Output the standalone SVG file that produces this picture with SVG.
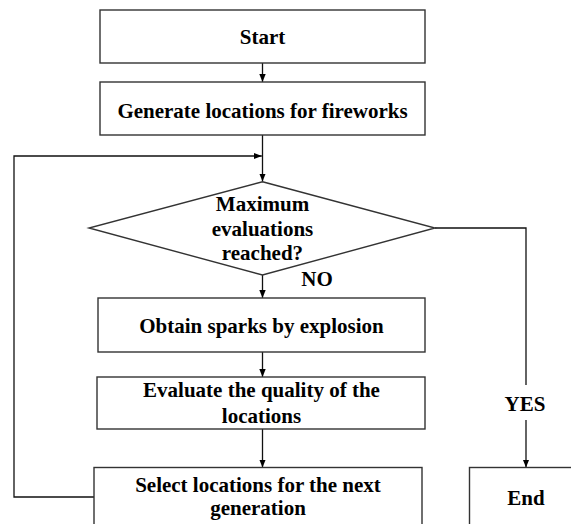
<svg xmlns="http://www.w3.org/2000/svg" width="571" height="524" viewBox="0 0 571 524">
<defs>
<marker id="ah" viewBox="0 0 8 8" refX="8" refY="4" markerWidth="8" markerHeight="8" markerUnits="userSpaceOnUse" orient="auto">
<path d="M0,0.8 L8,4 L0,7.2 Z" fill="#000"/>
</marker>
<style>
.box{fill:#fff;stroke:#333;stroke-width:1.4}
.ln{fill:none;stroke:#111;stroke-width:1.3}
.t{font-family:"Liberation Serif","Times New Roman",serif;font-weight:bold;font-size:21px;fill:#000;text-anchor:middle}
</style>
</defs>
<rect width="571" height="524" fill="#fff"/>
<g id="connectors">
<line class="ln" x1="262.5" y1="63" x2="262.5" y2="82" marker-end="url(#ah)"/>
<line class="ln" x1="262.5" y1="135" x2="262.5" y2="181.5" marker-end="url(#ah)"/>
<polyline class="ln" points="94,497 14,497 14,156 261.8,156" marker-end="url(#ah)"/>
<line class="ln" x1="262.5" y1="275" x2="262.5" y2="298" marker-end="url(#ah)"/>
<line class="ln" x1="262.5" y1="352" x2="262.5" y2="377" marker-end="url(#ah)"/>
<line class="ln" x1="262.5" y1="429" x2="262.5" y2="467.5" marker-end="url(#ah)"/>
<polyline class="ln" points="435,228 526,228 526,385"/>
<line class="ln" x1="526" y1="420" x2="526" y2="467.5" marker-end="url(#ah)"/>
<text class="t" x="317" y="286">NO</text>
<text class="t" x="525" y="411">YES</text>
</g>
<g id="start">
<rect class="box" x="100" y="10" width="325" height="53"/>
<text class="t" x="262.5" y="44">Start</text>
</g>
<g id="generate">
<rect class="box" x="100" y="82" width="325" height="53"/>
<text class="t" x="262.5" y="117.5">Generate locations for fireworks</text>
</g>
<g id="decision">
<polygon class="box" points="262.5,181.7 435,228 262.5,275 89,228"/>
<text class="t" x="262.5" y="210.7">Maximum</text>
<text class="t" x="262.5" y="235.5">evaluations</text>
<text class="t" x="262.5" y="260">reached?</text>
</g>
<g id="obtain">
<rect class="box" x="98" y="298" width="327" height="54"/>
<text class="t" x="261.5" y="332.7">Obtain sparks by explosion</text>
</g>
<g id="evaluate">
<rect class="box" x="97" y="377" width="328" height="52"/>
<text class="t" x="261.5" y="397.3">Evaluate the quality of the</text>
<text class="t" x="261.5" y="422.7">locations</text>
</g>
<g id="select">
<rect class="box" x="94" y="467.5" width="328" height="80"/>
<text class="t" x="258" y="491.7">Select locations for the next</text>
<text class="t" x="258" y="515">generation</text>
</g>
<g id="end">
<rect class="box" x="469.5" y="467.5" width="130" height="80"/>
<text class="t" x="526" y="505">End</text>
</g>
</svg>
